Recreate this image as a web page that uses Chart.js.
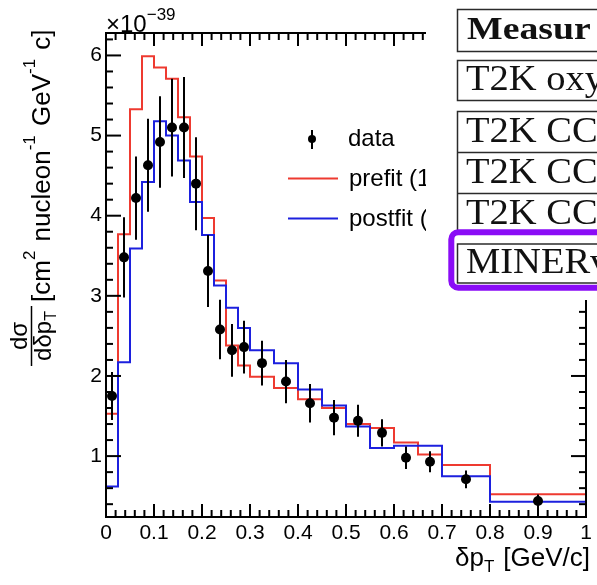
<!DOCTYPE html>
<html>
<head>
<meta charset="utf-8">
<script src="https://cdn.jsdelivr.net/npm/chart.js@4.4.0/dist/chart.umd.min.js"></script>
<style>
  html, body { margin: 0; padding: 0; background: #fff; }
</style>
</head>
<body>
<canvas id="xsecChart" width="597" height="585"></canvas>
<script>
// binning in dpT [GeV/c]
const binEdges = [0, 0.025, 0.05, 0.075, 0.1, 0.125, 0.15, 0.175, 0.2, 0.225, 0.25, 0.275,
                  0.3, 0.35, 0.4, 0.45, 0.5, 0.55, 0.6, 0.65, 0.7, 0.8, 1.0];

// model predictions per bin (x 1e-39)
const prefit  = [1.53, 3.77, 5.33, 5.99, 5.85, 5.71, 5.23, 4.74, 3.97, 3.19, 2.38, 2.13,
                 1.99, 1.85, 1.71, 1.60, 1.40, 1.35, 1.17, 1.02, 0.89, 0.525];
const postfit = [0.62, 2.17, 3.59, 4.42, 5.18, 5.00, 4.69, 4.17, 3.76, 3.13, 2.85, 2.60,
                 2.32, 2.16, 1.83, 1.63, 1.37, 1.10, 1.13, 1.13, 0.75, 0.43];

// measured points at bin centres
const dataX   = [0.0125, 0.0375, 0.0625, 0.0875, 0.1125, 0.1375, 0.1625, 0.1875, 0.2125, 0.2375, 0.2625, 0.2875,
                 0.325, 0.375, 0.425, 0.475, 0.525, 0.575, 0.625, 0.675, 0.75, 0.9];
const dataY   = [1.75, 3.48, 4.22, 4.63, 4.92, 5.10, 5.10, 4.40, 3.31, 2.58, 2.32, 2.36,
                 2.16, 1.93, 1.66, 1.48, 1.44, 1.29, 0.98, 0.93, 0.71, 0.44];
const dataErr = [0.30, 0.50, 0.52, 0.58, 0.57, 0.61, 0.63, 0.58, 0.45, 0.37, 0.33, 0.33,
                 0.28, 0.27, 0.24, 0.22, 0.20, 0.17, 0.14, 0.13, 0.11, 0.08];

const xTicks = [0, 0.1, 0.2, 0.3, 0.4, 0.5, 0.6, 0.7, 0.8, 0.9, 1];
const yTicks = [1, 2, 3, 4, 5, 6];
const yMin = 0.24, yMax = 6.28;

const tableRows = ['Measur', 'T2K oxy', 'T2K CC', 'T2K CC', 'T2K CC', 'MINERv'];

const RED = '#ee3a30';
const BLUE = '#1c20de';
const sans = '"Liberation Sans", Arial, Helvetica, sans-serif';
const serif = '"Liberation Serif", "Times New Roman", serif';

// step outline that drops to the axis at both ends
function histPoints(values) {
  const pts = [{ x: binEdges[0], y: yMin }];
  values.forEach((v, i) => pts.push({ x: binEdges[i], y: v }));
  pts.push({ x: binEdges[binEdges.length - 1], y: yMin });
  return pts;
}

function line(ctx, x1, y1, x2, y2) {
  ctx.beginPath();
  ctx.moveTo(x1, y1);
  ctx.lineTo(x2, y2);
  ctx.stroke();
}

// draws text pieces one after another: {t, size, dy}
function runText(ctx, pieces, x, y) {
  let u = x;
  for (const p of pieces) {
    ctx.font = p.size + 'px ' + sans;
    ctx.fillText(p.t, u, y + (p.dy || 0));
    u += ctx.measureText(p.t).width + (p.gap || 0);
  }
  return u;
}

function piecesWidth(ctx, pieces) {
  let w = 0;
  for (const p of pieces) {
    ctx.font = p.size + 'px ' + sans;
    w += ctx.measureText(p.t).width + (p.gap || 0);
  }
  return w;
}

const framePlugin = {
  id: 'frame',
  afterDatasetsDraw(chart) {
    const { ctx, chartArea: a, scales: { x, y } } = chart;
    ctx.save();
    ctx.strokeStyle = '#000';
    ctx.lineWidth = 2;
    ctx.strokeRect(a.left, a.top, a.right - a.left, a.bottom - a.top);
    for (let i = 0; i <= 50; i++) {
      const px = x.getPixelForValue(i * 0.02);
      const len = i % 5 === 0 ? 13 : 7;
      line(ctx, px, a.bottom, px, a.bottom - len);
      line(ctx, px, a.top, px, a.top + len);
    }
    for (let k = 1; k <= 31; k++) {
      const v = k * 0.2;
      if (v < yMin || v > yMax) continue;
      const py = y.getPixelForValue(v);
      const len = k % 5 === 0 ? 15 : 7;
      line(ctx, a.left, py, a.left + len, py);
      line(ctx, a.right, py, a.right - len, py);
    }
    ctx.restore();
  }
};

const errorBarPlugin = {
  id: 'errorBars',
  afterDatasetsDraw(chart) {
    const { ctx, scales: { x, y } } = chart;
    ctx.save();
    ctx.strokeStyle = '#000';
    ctx.lineWidth = 2;
    dataX.forEach((xv, i) => {
      const px = x.getPixelForValue(xv);
      line(ctx, px, y.getPixelForValue(dataY[i] - dataErr[i]), px, y.getPixelForValue(dataY[i] + dataErr[i]));
    });
    ctx.restore();
  }
};

const textPlugin = {
  id: 'titles',
  afterDraw(chart) {
    const ctx = chart.ctx;
    ctx.save();
    ctx.fillStyle = '#000';
    ctx.textBaseline = 'alphabetic';
    ctx.textAlign = 'left';

    // exponent above the y axis
    runText(ctx, [{ t: '\u00d710', size: 24 }, { t: '\u221239', size: 17, dy: -12 }], 106, 32);

    // x title, right aligned
    const xTitle = [{ t: '\u03b4p', size: 26 }, { t: 'T', size: 17, dy: 6, gap: 9 }, { t: '[GeV/c]', size: 26 }];
    runText(ctx, xTitle, 590 - piecesWidth(ctx, xTitle), 566);

    // y title: fraction then units, rotated
    ctx.save();
    ctx.rotate(-Math.PI / 2);
    // in rotated frame: u = -screenY, v = screenX
    const fracC = 336;
    ctx.font = '24px ' + sans;
    const num = 'd\u03c3';
    const nw = ctx.measureText(num).width;
    ctx.fillText(num, -fracC - nw / 2, 27);
    const den = [{ t: 'd\u03b4p', size: 24 }, { t: 'T', size: 16, dy: 5 }];
    const dw = piecesWidth(ctx, den);
    runText(ctx, den, -fracC - dw / 2, 51);
    ctx.strokeStyle = '#000';
    ctx.lineWidth = 1.5;
    line(ctx, -366, 31.5, -306, 31.5);
    const units = [
      { t: '[cm', size: 26 }, { t: '2', size: 17, dy: -15, gap: 2 },
      { t: ' nucleon', size: 26 }, { t: '-1', size: 17, dy: -15, gap: 2 },
      { t: ' GeV', size: 26 }, { t: '-1', size: 17, dy: -15, gap: 2 },
      { t: ' c]', size: 26 }
    ];
    runText(ctx, units, -302, 50);
    ctx.restore();

    // legend
    ctx.fillStyle = '#000';
    ctx.beginPath();
    ctx.arc(312, 139, 4, 0, Math.PI * 2);
    ctx.fill();
    ctx.strokeStyle = '#000';
    ctx.lineWidth = 2;
    line(ctx, 312, 130, 312, 149);
    ctx.strokeStyle = RED;
    line(ctx, 288, 178.5, 338, 178.5);
    ctx.strokeStyle = BLUE;
    line(ctx, 288, 218.5, 338, 218.5);
    ctx.font = '24px ' + sans;
    const labels = chart.data.datasets.map(d => d.label);
    ctx.fillText(labels[0], 348, 146);
    ctx.fillText(labels[1], 349, 186);
    ctx.fillText(labels[2], 349, 226);
    ctx.restore();
  }
};

// table panel pasted over the upper right corner
const tablePlugin = {
  id: 'table',
  afterDraw(chart) {
    const ctx = chart.ctx;
    ctx.save();
    ctx.fillStyle = '#fff';
    ctx.fillRect(426, 0, 171, 300);

    ctx.strokeStyle = '#2b2b2b';
    ctx.lineWidth = 1.5;
    ctx.strokeRect(457.5, 9.5, 200, 42);
    ctx.strokeRect(457.5, 60.5, 200, 40);
    ctx.strokeRect(457.5, 111.5, 200, 122);
    line(ctx, 457.5, 152.5, 657, 152.5);
    line(ctx, 457.5, 193.5, 657, 193.5);
    ctx.strokeRect(457.5, 244, 200, 39);

    ctx.strokeStyle = '#8a0cf6';
    ctx.lineWidth = 6;
    ctx.beginPath();
    ctx.roundRect(451.3, 232.3, 220, 55.4, 7);
    ctx.stroke();

    ctx.fillStyle = '#111';
    ctx.textBaseline = 'alphabetic';
    const baselines = [39, 89.5, 142, 183, 223.5, 272.5];
    tableRows.forEach((t, i) => {
      ctx.save();
      ctx.translate(i === 0 ? 467 : 466, baselines[i]);
      if (i === 0) {
        ctx.font = 'bold 32px ' + serif;
        ctx.scale(1.18, 1);
      } else {
        ctx.font = '36px ' + serif;
        ctx.scale(1.07, 1);
      }
      ctx.fillText(t, 0, 0);
      ctx.restore();
    });
    ctx.restore();
  }
};

new Chart(document.getElementById('xsecChart'), {
  type: 'scatter',
  data: {
    datasets: [
      {
        label: 'data',
        data: dataX.map((x, i) => ({ x, y: dataY[i] })),
        pointRadius: 5,
        pointHoverRadius: 5,
        backgroundColor: '#000',
        borderColor: '#000',
        borderWidth: 0,
        order: 0
      },
      {
        type: 'line',
        label: 'prefit (1',
        data: histPoints(prefit),
        stepped: 'before',
        borderColor: RED,
        borderWidth: 2,
        pointRadius: 0,
        fill: false,
        order: 2
      },
      {
        type: 'line',
        label: 'postfit (',
        data: histPoints(postfit),
        stepped: 'before',
        borderColor: BLUE,
        borderWidth: 2,
        pointRadius: 0,
        fill: false,
        order: 1
      }
    ]
  },
  options: {
    responsive: false,
    animation: false,
    layout: { padding: { top: 33, right: 11, left: 0, bottom: 0 } },
    plugins: {
      legend: { display: false },
      tooltip: { enabled: false }
    },
    scales: {
      x: {
        type: 'linear',
        min: 0,
        max: 1,
        grid: { display: false, drawTicks: false },
        border: { display: false },
        afterBuildTicks: s => { s.ticks = xTicks.map(v => ({ value: v })); },
        afterFit: s => { s.height = 68; },
        ticks: {
          autoSkip: false,
          maxRotation: 0,
          padding: 4,
          color: '#000',
          font: { family: sans, size: 21 },
          callback: v => String(+v.toFixed(1))
        }
      },
      y: {
        type: 'linear',
        min: yMin,
        max: yMax,
        grid: { display: false, drawTicks: false },
        border: { display: false },
        afterBuildTicks: s => { s.ticks = yTicks.map(v => ({ value: v })); },
        afterFit: s => { s.width = 106; },
        ticks: {
          autoSkip: false,
          padding: 4,
          color: '#000',
          font: { family: sans, size: 21 },
          callback: v => String(v)
        }
      }
    }
  },
  plugins: [framePlugin, errorBarPlugin, textPlugin, tablePlugin]
});
</script>
</body>
</html>
